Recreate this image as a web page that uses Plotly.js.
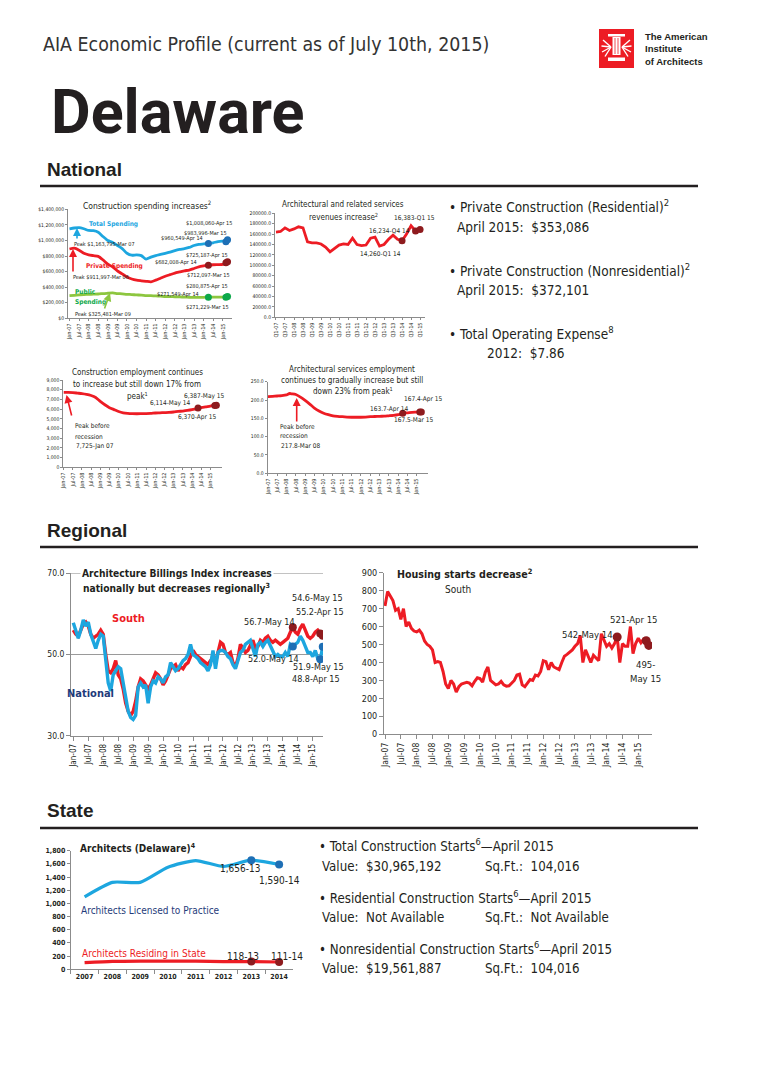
<!DOCTYPE html>
<html>
<head>
<meta charset="utf-8">
<script src="https://cdn.plot.ly/plotly-3.0.1.min.js"></script>
<style>html,body{margin:0;padding:0;background:#fff;}</style>
</head>
<body>
<div id="chart" style="width:757px;height:1089px;"></div>
<script>
// ---------------- DATA ----------------
// National: construction spending ($)
const spendDates = ['2007-01','2007-04','2007-07','2007-10','2008-01','2008-04','2008-07','2008-10',
  '2009-01','2009-04','2009-07','2009-10','2010-01','2010-04','2010-07','2010-10',
  '2011-01','2011-04','2011-07','2011-10','2012-01','2012-04','2012-07','2012-10',
  '2013-01','2013-04','2013-07','2013-10','2014-01','2014-04','2014-07','2014-10',
  '2015-01','2015-03','2015-04'];
const totalSpending = [1150000,1160000,1165000,1150000,1128000,1125000,1105000,1050000,
  1000000,975000,935000,895000,835000,810000,815000,805000,
  760000,785000,805000,820000,835000,850000,870000,885000,
  895000,910000,935000,950000,955000,960549,970000,985000,
  990000,983996,1008060];
const privateSpending = [890000,900000,875000,835000,815000,805000,795000,750000,
  695000,660000,610000,570000,530000,505000,490000,482000,
  475000,468000,490000,515000,540000,560000,580000,595000,
  610000,620000,640000,660000,672000,682008,688000,690000,
  692000,712097,725187];
const publicSpending = [290000,295000,300000,305000,308000,310000,312000,318000,
  322000,325481,318000,314000,308000,305000,300000,298000,
  292000,290000,288000,285000,280000,279000,277000,275000,
  272000,270000,268000,268000,270000,271549,272000,272000,
  271000,271229,280875];
const spendMarkDates = ['2014-04','2015-03','2015-04'];

// National: architectural and related services revenues (quarterly)
const revQuarters = ['Q1-07','Q2-07','Q3-07','Q4-07','Q1-08','Q2-08','Q3-08','Q4-08',
  'Q1-09','Q2-09','Q3-09','Q4-09','Q1-10','Q2-10','Q3-10','Q4-10',
  'Q1-11','Q2-11','Q3-11','Q4-11','Q1-12','Q2-12','Q3-12','Q4-12',
  'Q1-13','Q2-13','Q3-13','Q4-13','Q1-14','Q2-14','Q3-14','Q4-14','Q1-15'];
const revenues = [164000,165000,172000,167000,170000,174000,172000,145000,
  143000,143000,141000,135000,126000,133000,139000,141000,
  140000,152000,140000,138000,139000,152000,154000,137000,
  140000,150000,158000,150000,147000,160000,176000,166000,169000];
const revMarkQuarters = ['Q1-14','Q4-14','Q1-15'];

// National: construction employment (thousands)
const empDates = ['2007-01','2007-04','2007-07','2007-10','2008-01','2008-04','2008-07','2008-10',
  '2009-01','2009-04','2009-07','2009-10','2010-01','2010-04','2010-07','2010-10',
  '2011-01','2011-04','2011-07','2011-10','2012-01','2012-04','2012-07','2012-10',
  '2013-01','2013-04','2013-07','2013-10','2014-01','2014-04','2014-05','2014-07','2014-10',
  '2015-01','2015-04','2015-05'];
const constructionEmp = [7725,7720,7700,7650,7600,7520,7400,7200,
  6800,6450,6150,5950,5750,5620,5560,5530,
  5520,5530,5540,5560,5600,5620,5640,5660,
  5700,5760,5800,5860,5940,6050,6114,6150,6230,
  6310,6370,6387];
const empMarkDates = ['2014-05','2015-04','2015-05'];

// National: architectural services employment (thousands)
const archEmpDates = ['2007-01','2007-04','2007-07','2007-10','2008-01','2008-03','2008-04','2008-07','2008-10',
  '2009-01','2009-04','2009-07','2009-10','2010-01','2010-04','2010-07','2010-10',
  '2011-01','2011-04','2011-07','2011-10','2012-01','2012-04','2012-07','2012-10',
  '2013-01','2013-04','2013-07','2013-10','2014-01','2014-04','2014-07','2014-10',
  '2015-01','2015-03','2015-04'];
const archEmp = [209,210,211,212,214,217.8,217,215,208,
  199,189,178,170,164,160,157,155.5,
  154.5,153.5,153,153,153,153.5,154.5,155,
  155.5,156,157,158,160,163.7,165,166.5,
  167,167.5,167.4];
const archEmpMarkDates = ['2014-04','2015-03','2015-04'];

const halfYearLabels = ['Jan-07','Jul-07','Jan-08','Jul-08','Jan-09','Jul-09','Jan-10','Jul-10','Jan-11',
  'Jul-11','Jan-12','Jul-12','Jan-13','Jul-13','Jan-14','Jul-14','Jan-15'];
const quarterLabels = ['Q1-07','Q3-07','Q1-08','Q3-08','Q1-09','Q3-09','Q1-10','Q3-10','Q1-11',
  'Q3-11','Q1-12','Q3-12','Q1-13','Q3-13','Q1-14','Q3-14','Q1-15'];

// Regional: Architecture Billings Index, Jan-07 .. May-15 (monthly)
const abiSouth = [
  56.0,55.0,54.5,56.0,57.5,58.0,57.0,55.0,54.0,54.5,55.0,56.0,
  55.0,50.0,46.0,45.5,46.5,48.5,45.0,44.0,41.5,38.0,36.0,35.0,
  36.0,38.5,42.0,44.0,43.5,42.5,41.5,42.5,44.0,45.5,45.0,44.0,
  42.5,43.5,45.0,46.5,47.0,47.5,46.0,47.0,46.5,47.5,48.0,49.5,
  51.0,50.0,49.5,49.0,48.5,48.0,47.5,48.5,49.0,48.0,51.0,53.0,
  52.5,50.5,50.0,50.5,48.0,47.0,49.0,52.5,51.5,50.5,51.0,52.5,
  53.5,51.5,52.0,53.5,53.0,54.0,54.5,53.5,53.0,53.5,53.0,52.5,
  53.0,53.5,54.0,55.5,56.7,55.5,55.0,56.5,57.5,56.0,54.5,54.0,
  54.5,55.5,56.0,55.2,54.6];
const abiNational = [
  57.8,55.5,54.0,56.0,58.5,57.0,58.0,55.0,53.0,51.5,53.5,55.0,
  54.5,49.0,43.0,41.0,45.0,46.0,47.0,46.5,43.0,38.5,36.0,34.5,
  34.0,35.0,42.0,43.0,42.0,42.5,38.0,42.0,43.5,43.0,44.5,44.0,
  43.0,44.5,45.0,48.0,47.0,46.0,46.5,47.5,48.5,49.0,50.0,52.5,
  50.0,49.5,49.0,48.0,47.5,47.0,46.0,47.5,51.0,46.5,50.5,51.0,
  51.0,50.5,49.5,49.0,47.5,46.5,48.5,50.5,51.0,52.5,53.0,53.5,
  51.5,49.5,52.5,53.0,52.0,53.0,53.5,52.0,50.5,49.5,50.0,49.5,
  49.5,50.5,49.5,52.5,52.0,52.5,53.0,54.5,53.5,52.0,50.5,50.5,
  49.5,51.0,49.0,48.8,51.9];
const abiMarkDates = ['2014-05','2015-04','2015-05'];
const abiTicks = [30, 50, 70];

// Regional: housing starts, South (thousands), Jan-07 .. May-15
const housingStarts = [
  715,795,770,745,690,700,640,700,600,625,590,575,
  570,580,560,520,500,490,470,400,405,400,350,280,
  255,300,280,235,265,280,285,290,285,270,295,315,
  310,290,345,375,300,285,275,280,295,275,268,270,
  285,300,330,335,275,265,285,305,300,330,325,350,
  410,405,360,400,375,365,360,400,435,445,455,470,
  490,505,550,400,470,430,400,440,425,410,560,520,
  490,505,480,505,542,400,505,490,490,600,450,505,
  535,510,530,521,495];
const housingMarkDates = ['2014-05','2015-04','2015-05'];

// State: architects in Delaware
const archYears = ['2007','2008','2009','2010','2011','2012','2013','2014'];
const archLicensed = [1100,1320,1320,1550,1650,1560,1656,1590];
const archResiding = [100,120,125,125,125,115,118,111];
const archMarkYears = ['2013','2014'];

// ---------------- HELPERS ----------------
const W = 757, H = 1089;
const px = v => v / W, py = v => 1 - v / H;
const dx = (a, b) => [a / W, b / W];
const dy = (t, b) => [1 - b / H, 1 - t / H];
const mi = s => { const p = s.split('-').map(Number); return (p[0] - 2007) * 12 + p[1] - 1; };
const MON = {Jan: 0, Jul: 6};
const labelToIdx = l => (2000 + Number(l.slice(4)) - 2007) * 12 + MON[l.slice(0, 3)];
const monthly = n => { const a = []; for (let i = 0; i < n; i++) a.push(i); return a; };
const pick = (xs, ys, keys) => keys.map(k => ys[xs.indexOf(k)]);

const NARROW = '"Liberation Sans Narrow", "Arial Narrow", "DejaVu Sans Condensed", sans-serif';
const SANS = '"Liberation Sans", Arial, sans-serif';
const RED = '#ED1C24', DKRED = '#8E1B1E', LBLUE = '#1DA6DF', DKBLUE = '#1E6FB5',
      LGREEN = '#8DC63F', DKGREEN = '#0DA84A', NAVY = '#1F3B7A', AXC = '#8C8C8C';

function T(text, x, y, o) {
  o = o || {};
  const a = {xref: 'paper', yref: 'paper', x: px(x), y: py(y), text: text, showarrow: false,
    xanchor: o.xa || 'left', yanchor: 'middle',
    font: {family: o.f || NARROW, size: o.s || 10, color: o.c || '#231F20'}};
  if (o.bg) a.bgcolor = o.bg;
  return a;
}
function ARROW(tipX, tipY, tailX, tailY, color) {
  return {xref: 'paper', yref: 'paper', x: px(tipX), y: py(tipY), ax: tailX - tipX, ay: tailY - tipY,
    axref: 'pixel', ayref: 'pixel', text: '', showarrow: true, arrowhead: 2, arrowsize: 1,
    arrowwidth: 1.6, arrowcolor: color};
}
function smallX(dom, range, anchor, vals, text, fs) {
  return {domain: dom, range: range, anchor: anchor, tickvals: vals, ticktext: text, tickangle: -90,
    tickfont: {family: NARROW, size: fs || 5.5, color: '#231F20'}, ticks: 'outside', ticklen: 2,
    tickcolor: AXC, showline: true, linecolor: AXC, linewidth: 1, showgrid: false, zeroline: false};
}
function smallY(dom, range, anchor, dtick, fmt, fs, prefix) {
  const ax = {domain: dom, range: range, anchor: anchor, tickformat: fmt, tickprefix: prefix || '',
    tickfont: {family: NARROW, size: fs || 5, color: '#231F20'}, ticks: 'outside', ticklen: 2,
    tickcolor: AXC, showline: true, linecolor: AXC, linewidth: 1, showgrid: false, zeroline: false};
  if (dtick) ax.dtick = dtick;
  return ax;
}
function line(x, y, xa, ya, color, w, shape) {
  return {type: 'scatter', mode: 'lines', x: x, y: y, xaxis: xa, yaxis: ya,
    line: {color: color, width: w, shape: shape || 'linear', smoothing: 0.6}, hoverinfo: 'skip'};
}
function marks(x, y, xa, ya, color, size) {
  return {type: 'scatter', mode: 'markers', x: x, y: y, xaxis: xa, yaxis: ya,
    marker: {color: color, size: size, line: {color: color, width: 0}}, hoverinfo: 'skip'};
}

const halfTicks = halfYearLabels.map(labelToIdx);
const spendX = spendDates.map(mi), empX = empDates.map(mi), archEmpX = archEmpDates.map(mi);
const mX = monthly(abiSouth.length), hX = monthly(housingStarts.length);

// ---------------- TRACES ----------------
const traces = [
  line(spendX, totalSpending, 'x', 'y', LBLUE, 2.8, 'spline'),
  line(spendX, privateSpending, 'x', 'y', RED, 2.8, 'spline'),
  line(spendX, publicSpending, 'x', 'y', LGREEN, 2.8, 'spline'),
  marks(spendMarkDates.map(mi), pick(spendDates, totalSpending, spendMarkDates), 'x', 'y', DKBLUE, 7),
  marks(spendMarkDates.map(mi), pick(spendDates, privateSpending, spendMarkDates), 'x', 'y', DKRED, 7),
  marks(spendMarkDates.map(mi), pick(spendDates, publicSpending, spendMarkDates), 'x', 'y', DKGREEN, 7),
  line(revQuarters, revenues, 'x2', 'y2', RED, 2.8),
  marks(revMarkQuarters, pick(revQuarters, revenues, revMarkQuarters), 'x2', 'y2', DKRED, 7),
  line(empX, constructionEmp, 'x3', 'y3', RED, 2.8, 'spline'),
  marks(empMarkDates.map(mi), pick(empDates, constructionEmp, empMarkDates), 'x3', 'y3', DKRED, 7),
  line(archEmpX, archEmp, 'x4', 'y4', RED, 2.8, 'spline'),
  marks(archEmpMarkDates.map(mi), pick(archEmpDates, archEmp, archEmpMarkDates), 'x4', 'y4', DKRED, 7),
  line(mX, abiSouth, 'x5', 'y5', RED, 3.4),
  line(mX, abiNational, 'x5', 'y5', LBLUE, 3.4),
  marks(abiMarkDates.map(mi), abiMarkDates.map(d => abiSouth[mi(d)]), 'x5', 'y5', DKRED, 8),
  marks(abiMarkDates.map(mi), abiMarkDates.map(d => abiNational[mi(d)]), 'x5', 'y5', DKBLUE, 8),
  line(hX, housingStarts, 'x6', 'y6', RED, 3),
  marks(housingMarkDates.map(mi), housingMarkDates.map(d => housingStarts[mi(d)]), 'x6', 'y6', DKRED, 9),
  line(archYears, archLicensed, 'x7', 'y7', LBLUE, 3.2, 'spline'),
  line(archYears, archResiding, 'x7', 'y7', RED, 3.2, 'spline'),
  marks(archMarkYears, pick(archYears, archLicensed, archMarkYears), 'x7', 'y7', DKBLUE, 8),
  marks(archMarkYears, pick(archYears, archResiding, archMarkYears), 'x7', 'y7', DKRED, 8)
];

// ---------------- LAYOUT ----------------
const layout = {
  width: W, height: H, margin: {l: 0, r: 0, t: 0, b: 0}, showlegend: false,
  paper_bgcolor: '#fff', plot_bgcolor: 'rgba(0,0,0,0)',
  xaxis: smallX(dx(68, 232), [-0.94, 101.8], 'y', halfTicks, halfYearLabels),
  yaxis: smallY(dy(209.3, 318.3), [0, 1400000], 'x', 200000, ',d', 5, '$'),
  xaxis2: Object.assign(smallX(dx(275, 425), [-0.22, 33.1], 'y2', quarterLabels, quarterLabels), {type: 'category'}),
  yaxis2: smallY(dy(213.3, 317.3), [0, 200000], 'x2', 20000, '.1f', 5),
  xaxis3: smallX(dx(63.3, 222), [-0.2, 103.7], 'y3', halfTicks, halfYearLabels),
  yaxis3: smallY(dy(380, 467.3), [0, 9000], 'x3', 1000, ',d', 5),
  xaxis4: smallX(dx(267.7, 428), [-0.13, 103.3], 'y4', halfTicks, halfYearLabels),
  yaxis4: smallY(dy(381.7, 473.3), [0, 250], 'x4', 50, '.1f', 5),
  xaxis5: Object.assign(smallX(dx(71, 323), [-0.92, 100.1], 'y5', halfTicks, halfYearLabels, 8), {ticklen: 4}),
  yaxis5: Object.assign(smallY(dy(573.3, 735.7), [30, 70], 'x5', null, '.1f', 8.5),
    {tickmode: 'array', tickvals: abiTicks, showgrid: true, gridcolor: '#9A9A9A', gridwidth: 1, ticklen: 4}),
  xaxis6: Object.assign(smallX(dx(384, 652), [-0.38, 101.2], 'y6', halfTicks, halfYearLabels, 8.5), {ticklen: 4}),
  yaxis6: Object.assign(smallY(dy(572.7, 734.3), [0, 900], 'x6', 100, 'd', 9), {ticklen: 4}),
  xaxis7: Object.assign(smallX(dx(70.7, 293), [-0.5, 7.5], 'y7', archYears, archYears, 7),
    {type: 'category', tickangle: 0, ticks: 'outside', tickson: 'boundaries', ticklen: 4,
     tickfont: {family: NARROW, size: 7, color: '#231F20', weight: 700}}),
  yaxis7: Object.assign(smallY(dy(850.7, 969.3), [0, 1800], 'x7', 200, ',d', 7), {ticklen: 3,
     tickfont: {family: NARROW, size: 7, color: '#231F20', weight: 700}}),
  shapes: [],
  annotations: []
};

[186, 547, 828].forEach(y => layout.shapes.push({type: 'line', xref: 'paper', yref: 'paper',
  x0: px(40), x1: px(698), y0: py(y), y1: py(y), line: {color: '#231F20', width: 2.6}}));
// top gridline of ABI chart (at 70.0)
layout.shapes.push({type: 'line', xref: 'paper', yref: 'y5', x0: px(71), x1: px(323), y0: 70, y1: 70,
  line: {color: '#9A9A9A', width: 1}, layer: 'below'});

// AIA logo
const rectP = (x0, y0, x1, y1, c) => ({type: 'rect', xref: 'paper', yref: 'paper', x0: px(x0), x1: px(x1),
  y0: py(y1), y1: py(y0), fillcolor: c, line: {width: 0}});
const segP = (x0, y0, x1, y1, c, w) => ({type: 'line', xref: 'paper', yref: 'paper', x0: px(x0), x1: px(x1),
  y0: py(y0), y1: py(y1), line: {color: c, width: w}});
layout.shapes.push(rectP(599, 29, 634, 68, RED));
layout.shapes.push(rectP(608, 34, 625, 36.5, '#fff'));
layout.shapes.push(rectP(612.5, 37, 620.5, 55, '#fff'));
layout.shapes.push(segP(615, 38, 615, 54, RED, 0.8));
layout.shapes.push(segP(618, 38, 618, 54, RED, 0.8));
layout.shapes.push(rectP(608, 57.5, 625, 61, '#fff'));
[[603, 40], [601.5, 46], [602, 52], [605, 56.5], [630, 40], [631.5, 46], [631, 52], [628, 56.5]].forEach(p =>
  layout.shapes.push(segP(p[0] < 616 ? 611 : 622, 47, p[0], p[1], '#fff', 1.4)));

const A = layout.annotations;
A.push(T('AIA Economic Profile (current as of July 10th, 2015)', 41, 45, {s: 19.4, c: '#333'}));
A.push(T('<b>The American</b>', 643, 36, {f: SANS, s: 9.5}));
A.push(T('<b>Institute</b>', 643, 48.5, {f: SANS, s: 9.5}));
A.push(T('<b>of Architects</b>', 643, 61, {f: SANS, s: 9.5}));
A.push(T('<b>Delaware</b>', 49, 112, {f: 'Roboto, ' + SANS, s: 61}));
A.push(T('<b>National</b>', 45, 170, {f: SANS, s: 19}));
A.push(T('<b>Regional</b>', 45, 530, {f: SANS, s: 19}));
A.push(T('<b>State</b>', 45, 810, {f: SANS, s: 19}));

const NB = {s: 13.5, c: '#231F20'};
A.push(T('• Private Construction (Residential)<sup>2</sup>', 447, 206, NB));
A.push(T('April 2015:\u00a0\u00a0$353,086', 455, 227, NB));
A.push(T('• Private Construction (Nonresidential)<sup>2</sup>', 447, 270, NB));
A.push(T('April 2015:\u00a0\u00a0$372,101', 455, 290, NB));
A.push(T('• Total Operating Expense<sup>8</sup>', 447, 333, NB));
A.push(T('2012:\u00a0\u00a0$7.86', 485, 353, NB));

// A
A.push(T('Construction spending increases<sup>2</sup>', 147, 205, {s: 8.5, xa: 'center'}));
A.push(T('<b>Total Spending</b>', 87, 224, {s: 6.5, c: LBLUE}));
A.push(T('Peak $1,163,795-Mar 07', 72, 244, {s: 5.5}));
A.push(T('<b>Private Spending</b>', 84, 266, {s: 6.5, c: RED}));
A.push(T('Peak $911,997-Mar 06', 71, 277, {s: 5.5}));
A.push(T('<b>Public</b>', 73, 292, {s: 6.5, c: DKGREEN}));
A.push(T('<b>Spending</b>', 73, 302, {s: 6.5, c: DKGREEN}));
A.push(T('Peak $325,481-Mar 09', 73, 314, {s: 5.5}));
A.push(T('$1,008,060-Apr 15', 184, 224, {s: 5.5}));
A.push(T('$983,996-Mar 15', 182, 233, {s: 5.5}));
A.push(T('$960,549-Apr 14', 159, 238, {s: 5.5}));
A.push(T('$725,187-Apr 15', 184, 256, {s: 5.5}));
A.push(T('$682,008-Apr 14', 153, 263, {s: 5.5}));
A.push(T('$712,097-Mar 15', 185, 275, {s: 5.5}));
A.push(T('$280,875-Apr 15', 184, 287, {s: 5.5}));
A.push(T('$271,549-Apr 14', 155, 294, {s: 5.5}));
A.push(T('$271,229-Mar 15', 184, 307, {s: 5.5}));
A.push(ARROW(77, 228, 77, 240, LBLUE));
A.push(ARROW(73, 249, 73, 273, RED));
A.push(ARROW(110, 293, 104, 310, LGREEN));

// B
A.push(T('Architectural and related services', 343, 205, {s: 8, xa: 'center'}));
A.push(T('revenues increase<sup>2</sup>', 343, 217, {s: 8, xa: 'center'}));
A.push(T('16,383-Q1 15', 392, 218, {s: 6.5}));
A.push(T('16,234-Q4 14', 367, 231, {s: 6.5}));
A.push(T('14,260-Q1 14', 358, 254, {s: 6.5}));

// C
A.push(T('Construction employment continues', 137, 372, {s: 8, xa: 'center'}));
A.push(T('to increase but still down 17% from', 137, 384, {s: 8, xa: 'center'}));
A.push(T('peak<sup>1</sup>', 137, 396, {s: 8, xa: 'center'}));
A.push(T('6,387-May 15', 182, 396, {s: 6.5}));
A.push(T('6,114-May 14', 148, 403, {s: 6.5}));
A.push(T('6,370-Apr 15', 176, 417, {s: 6.5}));
A.push(T('Peak before', 73, 426, {s: 6.5}));
A.push(T('recession', 73, 437, {s: 6.5}));
A.push(T('7,725-Jan 07', 74, 446, {s: 6.5}));
A.push(ARROW(66.5, 395, 72, 417, RED));

// D
A.push(T('Architectural services employment', 352, 369, {s: 8, xa: 'center'}));
A.push(T('continues to gradually increase but still', 352, 380, {s: 8, xa: 'center'}));
A.push(T('down 23% from peak<sup>1</sup>', 353, 391, {s: 8, xa: 'center'}));
A.push(T('167.4-Apr 15', 402, 399, {s: 6.5}));
A.push(T('163.7-Apr 14', 368, 409, {s: 6.5}));
A.push(T('167.5-Mar 15', 392, 420, {s: 6.5}));
A.push(T('Peak before', 278, 427, {s: 6.5}));
A.push(T('recession', 278, 436, {s: 6.5}));
A.push(T('217.8-Mar 08', 279, 446, {s: 6.5}));
A.push(ARROW(296.7, 398, 296.7, 423, RED));

// E ABI
A.push(T('<b>Architecture Billings Index increases</b>', 80, 573, {s: 10.2, bg: '#fff'}));
A.push(T('<b>nationally but decreases regionally<sup>3</sup></b>', 176, 587, {s: 10.2, xa: 'center'}));
A.push(T('<b>South</b>', 110, 618, {s: 11, c: RED}));
A.push(T('<b>National</b>', 65, 693, {s: 11, c: NAVY}));
A.push(T('54.6-May 15', 290, 598, {s: 9}));
A.push(T('55.2-Apr 15', 294, 612, {s: 9}));
A.push(T('56.7-May 14', 242, 622, {s: 9}));
A.push(T('52.0-May 14', 246, 659, {s: 9}));
A.push(T('51.9-May 15', 291, 667, {s: 9}));
A.push(T('48.8-Apr 15', 290, 679, {s: 9}));

// F housing
A.push(T('<b>Housing starts decrease<sup>2</sup></b>', 395, 573, {s: 10.6}));
A.push(T('South', 443, 589, {s: 10}));
A.push(T('542-May 14', 560, 634, {s: 9.5}));
A.push(T('521-Apr 15', 608, 619, {s: 9.5}));
A.push(T('495-', 634, 664, {s: 9.5}));
A.push(T('May 15', 628, 678, {s: 9.5}));

// G architects
A.push(T('<b>Architects (Delaware)<sup>4</sup></b>', 78, 848, {s: 10}));
A.push(T('Architects Licensed to Practice', 79, 910, {s: 10, c: NAVY}));
A.push(T('Architects Residing in State', 80, 953, {s: 10, c: RED}));
A.push(T('1,656-13', 218, 868, {s: 10}));
A.push(T('1,590-14', 257, 880, {s: 10}));
A.push(T('118-13', 225, 956, {s: 10}));
A.push(T('111-14', 269, 956, {s: 10}));

const SB = {s: 13.2, c: '#231F20'};
A.push(T('• Total Construction Starts<sup>6</sup>—April 2015', 317, 845, SB));
A.push(T('Value:\u00a0\u00a0$30,965,192', 320, 866, SB));
A.push(T('Sq.Ft.:\u00a0\u00a0104,016', 483, 866, SB));
A.push(T('• Residential Construction Starts<sup>6</sup>—April 2015', 317, 897, SB));
A.push(T('Value:\u00a0\u00a0Not Available', 320, 917, SB));
A.push(T('Sq.Ft.:\u00a0\u00a0Not Available', 483, 917, SB));
A.push(T('• Nonresidential Construction Starts<sup>6</sup>—April 2015', 317, 948, SB));
A.push(T('Value:\u00a0\u00a0$19,561,887', 320, 968, SB));
A.push(T('Sq.Ft.:\u00a0\u00a0104,016', 483, 968, SB));

Plotly.newPlot('chart', traces, layout, {staticPlot: true, displayModeBar: false});
</script>
</body>
</html>
